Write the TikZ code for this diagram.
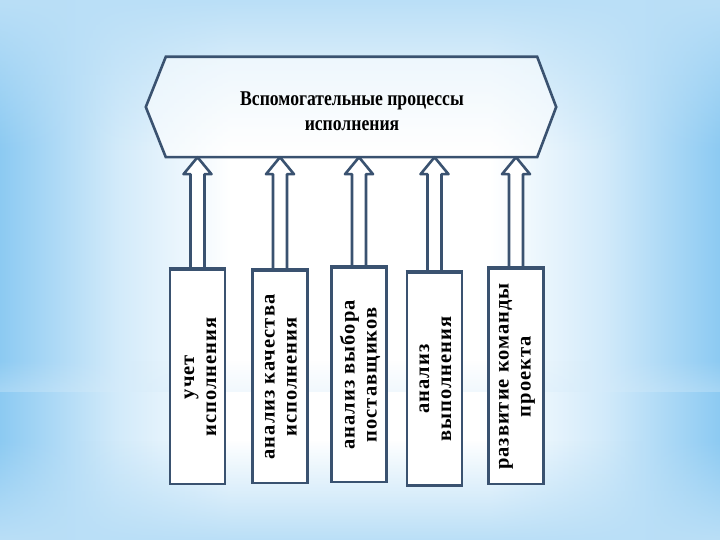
\documentclass[tikz,border=0pt]{standalone}
\usepackage{fontspec}
\setmainfont{Liberation Serif}
\newfontfamily\titlefont[FakeStretch=0.84]{Liberation Serif}
\newfontfamily\boxfont[LetterSpace=5]{Liberation Serif}
\usetikzlibrary{calc,fadings}
\definecolor{bgblue}{RGB}{140,202,242}
\definecolor{edgecol}{RGB}{58,82,112}
\pgfdeclarehorizontalshading{bgh}{100bp}{color(0bp)=(bgblue); color(25bp)=(bgblue); color(33bp)=(bgblue!40!white); color(41bp)=(white); color(59bp)=(white); color(67bp)=(bgblue!40!white); color(75bp)=(bgblue); color(100bp)=(bgblue)}
\tikzfading[name=fadedown, top color=transparent!0, bottom color=transparent!100]
\tikzfading[name=fadeup, top color=transparent!100, bottom color=transparent!0]
\tikzset{
  outline/.style={draw=edgecol, line width=2.6pt, line join=miter},
  box/.style={outline, fill=white, minimum width=55pt, inner sep=0pt},
  lbl/.style={rotate=90, align=center, inner sep=0pt, text=black,
    font=\boxfont\bfseries\fontsize{20.5}{22}\selectfont},
  arr/.style={outline, fill=white, line join=round},
  ttl/.style={align=center, inner sep=0pt, text=black,
    font=\titlefont\bfseries\fontsize{21}{25.5}\selectfont}
}
\begin{document}
\begin{tikzpicture}[x=1pt,y=-1pt]
\useasboundingbox (0,0) rectangle (720,540);
% background
\shade[shading=bgh] (0,0) rectangle (720,540);
\fill[bgblue!60!white, path fading=fadedown] (0,0) rectangle (720,150);
\fill[bgblue!60!white, path fading=fadeup] (0,440) rectangle (720,540);
\fill[bgblue!35!white, opacity=0.35, path fading=fadeup] (0,360) rectangle (720,392);
% hexagon
\node[minimum width=371pt, minimum height=100pt, inner sep=0pt] (hex) at (351.5,107) {};
\draw[outline, fill=white, fill opacity=0.6] (hex.north west) -- (hex.north east) -- ($(hex.east)+(19,0)$)
  -- (hex.south east) -- (hex.south west) -- ($(hex.west)+(-20,0)$) -- cycle;
\node[ttl] (title) at (352,111) {Вспомогательные процессы\\исполнения};
% boxes (positions)
\coordinate (c1) at (197.5,377);
\coordinate (c2) at (280,377);
\coordinate (c3) at (359,375);
\coordinate (c4) at (434.5,379);
\coordinate (c5) at (516,376.5);
\node[box, minimum height=214pt] (b1) at (c1) {};
\node[box, minimum height=212pt] (b2) at (c2) {};
\node[box, minimum height=214pt] (b3) at (c3) {};
\node[box, minimum height=213pt] (b4) at (c4) {};
\node[box, minimum height=215pt] (b5) at (c5) {};
% arrows
\foreach \i in {1,...,5}{
  \draw[arr] let \p1=(b\i.north), \p2=(hex.south) in
    (\x1-7pt,\y1) -- (\x1-7pt,\y2-17pt) -- (\x1-14pt,\y2-17pt) -- (\x1,\y2)
    -- (\x1+14pt,\y2-17pt) -- (\x1+7pt,\y2-17pt) -- (\x1+7pt,\y1);
}
% redraw box tops over arrow ends
\foreach \i in {1,...,5}{
  \draw[outline] (b\i.north west) -- (b\i.north east);
}
% labels
\node[lbl] (l1) at ($(b1.center)+(3,0)$) {учет\\исполнения};
\node[lbl] (l2) at ($(b2.center)+(1,0)$) {анализ качества\\исполнения};
\node[lbl] (l3) at ($(b3.center)+(1,0)$) {анализ выбора\\поставщиков};
\node[lbl] (l4) at ($(b4.center)+(1,0)$) {анализ\\выполнения};
\node[lbl] (l5) at ($(b5.center)+(1,0)$) {развитие команды\\проекта};
\end{tikzpicture}
\end{document}
